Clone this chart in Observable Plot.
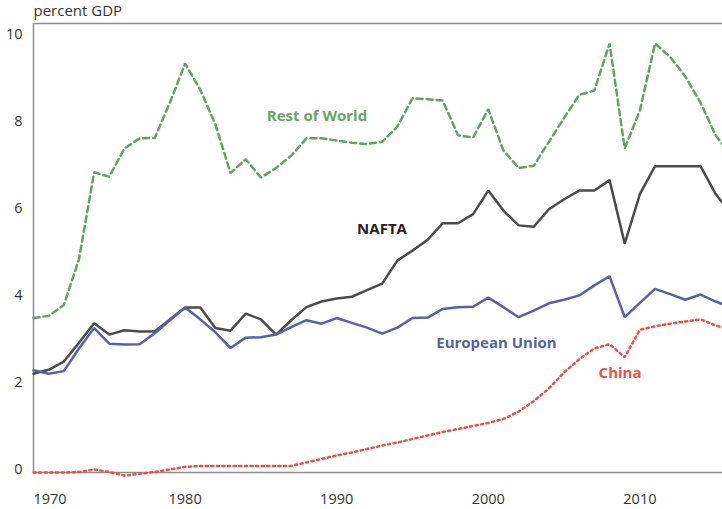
<!DOCTYPE html>
<html><head><meta charset="utf-8">
<script src="https://cdn.jsdelivr.net/npm/d3@7"></script>
<script src="https://cdn.jsdelivr.net/npm/@observablehq/plot@0.6"></script>
<style>
html,body{margin:0;padding:0;background:#fff;overflow:hidden}
#chart{position:relative;width:722px;height:509px;overflow:hidden}
</style></head><body><div id="chart"></div>
<script>
const years = [1970,1971,1972,1973,1974,1975,1976,1977,1978,1979,1980,1981,1982,1983,1984,1985,1986,1987,1988,1989,1990,1991,1992,1993,1994,1995,1996,1997,1998,1999,2000,2001,2002,2003,2004,2005,2006,2007,2008,2009,2010,2011,2012,2013,2014,2015,2016];
const restOfWorld = [3.55,3.6,3.85,4.9,6.9,6.8,7.45,7.68,7.69,8.5,9.4,8.8,8.0,6.88,7.2,6.78,7.0,7.28,7.68,7.68,7.63,7.58,7.55,7.6,7.95,8.6,8.58,8.55,7.75,7.7,8.35,7.4,7.0,7.05,7.6,8.15,8.68,8.78,9.86,7.45,8.32,9.86,9.55,9.1,8.5,7.75,7.3];
const nafta = [2.27,2.36,2.55,2.98,3.43,3.17,3.27,3.24,3.24,3.52,3.79,3.79,3.32,3.26,3.65,3.52,3.17,3.5,3.8,3.93,4.0,4.04,4.19,4.34,4.87,5.1,5.35,5.73,5.73,5.94,6.48,6.02,5.68,5.65,6.05,6.28,6.48,6.48,6.72,5.26,6.4,7.04,7.04,7.04,7.04,6.4,5.95];
const europeanUnion = [2.35,2.27,2.33,2.85,3.32,2.96,2.94,2.95,3.2,3.5,3.79,3.52,3.22,2.86,3.1,3.11,3.17,3.34,3.5,3.42,3.55,3.44,3.33,3.19,3.33,3.55,3.56,3.76,3.8,3.81,4.02,3.8,3.57,3.72,3.89,3.97,4.07,4.3,4.51,3.57,3.9,4.22,4.1,3.97,4.09,3.93,3.8];
const china = [0,0,0,0.01,0.07,0.01,-0.07,-0.03,0.01,0.07,0.13,0.15,0.15,0.15,0.15,0.15,0.15,0.15,0.23,0.31,0.39,0.46,0.54,0.62,0.69,0.77,0.85,0.93,1.0,1.07,1.14,1.23,1.4,1.64,1.93,2.3,2.6,2.85,2.95,2.65,3.28,3.36,3.42,3.47,3.52,3.38,3.28];
const seriesNames = ["Rest of World","NAFTA","European Union","China"];
const labelYears = [1988.7,1992.99,2000.54,2008.69];
const labelValues = [8.18,5.59,2.97,2.28];
const xTicks = [1970,1980,1990,2000,2010];
const yTicks = [0,2,4,6,8,10];
const yLabel = "percent GDP";
const xDomain = [1970, 2015.45];
const yDomain = [0, 10.32];

// styles (kept apart from data)
const lineColors = ["#62a262","#4b4b4b","#5562aa","#e8524c"];
const labelColors = ["#65a665","#222222","#5562aa","#e8524c"];
const dashes = ["6,4", null, null, "2.2,3.4"];
const axisColor = "#8d8d8d";

const valuesBySeries = [restOfWorld, nafta, europeanUnion, china];
const rows = valuesBySeries.map(vals => years.map((yr,i)=>({year: yr, value: vals[i]})));
const labels = seriesNames.map((n,i)=>({name:n, year: labelYears[i], value: labelValues[i]}));

const marks = [
  Plot.ruleY([yDomain[1]], {stroke: axisColor, strokeWidth: 1.5}),
  Plot.ruleY([yDomain[0]], {stroke: axisColor, strokeWidth: 1.5}),
  Plot.ruleX([xDomain[0]], {stroke: axisColor, strokeWidth: 1.5}),
  Plot.axisY(yTicks, {tickSize: 0, tickPadding: 11, dy: -3, fontSize: 14.5, label: null}),
  Plot.axisX([xTicks[0]], {tickSize: 0, tickPadding: 21, textAnchor: "start", fontSize: 14.5, label: null, tickFormat: d => String(d)}),
  Plot.axisX(xTicks.slice(1), {tickSize: 0, tickPadding: 21, fontSize: 14.5, label: null, tickFormat: d => String(d)}),
  Plot.text([yLabel], {frameAnchor: "top-left", text: d => d, dy: -12, textAnchor: "start", lineAnchor: "middle", fontSize: 15, fill: "#333"})
];
rows.forEach((r,i)=>{
  const opts = {x: "year", y: "value", stroke: lineColors[i], strokeWidth: 2.5, strokeLinejoin: "miter"};
  if (dashes[i]) opts.strokeDasharray = dashes[i];
  marks.push(Plot.line(r, opts));
});
labels.forEach((l,i)=>{
  marks.push(Plot.text([l], {x: "year", y: "value", text: "name", fill: labelColors[i], fontWeight: 700, fontSize: 15, textAnchor: "middle"}));
});

const chart = Plot.plot({
  width: 722,
  height: 509,
  marginLeft: 33,
  marginRight: 0,
  marginTop: 23,
  marginBottom: 37,
  x: {domain: xDomain, label: null},
  y: {domain: yDomain, label: null},
  style: {fontFamily: "'Open Sans', sans-serif", fontSize: "14.5px", color: "#333", background: "#fff", overflow: "hidden"},
  marks
});
document.getElementById("chart").appendChild(chart);
</script>
</body></html>
